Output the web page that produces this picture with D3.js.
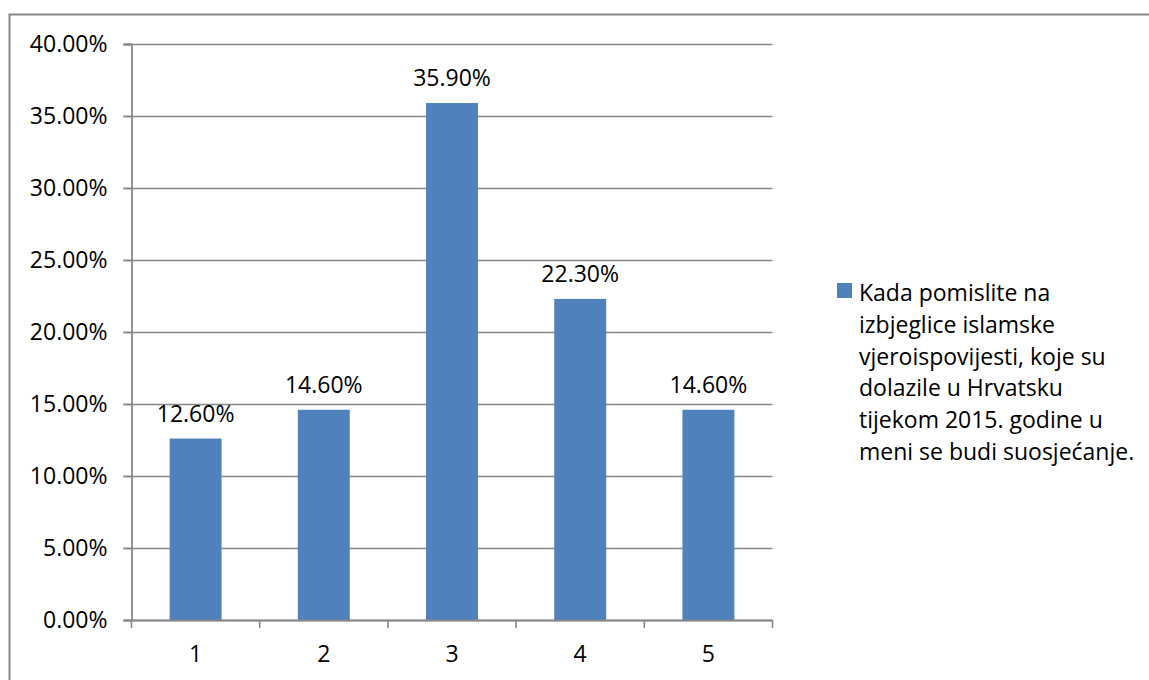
<!DOCTYPE html>
<html>
<head>
<meta charset="utf-8">
<script src="https://cdn.jsdelivr.net/npm/d3@7"></script>
<style>
  html, body { margin: 0; padding: 0; background: #fff; }
  svg { display: block; }
  text { font-family: "Open Sans", "Liberation Sans", sans-serif; fill: #000; }
</style>
</head>
<body>
<svg id="chart" width="1149" height="680"></svg>
<script>
const categories = ["1", "2", "3", "4", "5"];
const values = [12.6, 14.6, 35.9, 22.3, 14.6];
const yTicks = [0, 5, 10, 15, 20, 25, 30, 35, 40];
const seriesName = "Kada pomislite na izbjeglice islamske vjeroispovijesti, koje su dolazile u Hrvatsku tijekom 2015. godine u meni se budi suosjećanje.";
const legendLines = [
  "Kada pomislite na",
  "izbjeglice islamske",
  "vjeroispovijesti, koje su",
  "dolazile u Hrvatsku",
  "tijekom 2015. godine u",
  "meni se budi suosjećanje."
];

(function () {
const svg = d3.select("#chart");
const W = 1149, H = 680;
const plotLeft = 131.5, plotRight = 772.5, plotTop = 44, plotBottom = 620;
const gridColor = "#878787";
const barColor = "#4F81BD";
const fontSize = 23;
const fontFam = "'Open Sans', 'Liberation Sans', sans-serif";

// outer chart border (left and top visible)
svg.append("path")
  .attr("d", `M9.5,${H} L9.5,14.5 L${W},14.5`)
  .attr("fill", "none")
  .attr("stroke", gridColor)
  .attr("stroke-width", 2);

const x = d3.scaleBand()
  .domain(categories)
  .range([plotLeft, plotRight])
  .paddingInner(0.595)
  .paddingOuter(0.2975);

const y = d3.scaleLinear()
  .domain([0, 40])
  .range([plotBottom, plotTop]);

// gridlines
svg.append("g")
  .selectAll("line")
  .data(yTicks)
  .join("line")
  .attr("x1", plotLeft - 8)
  .attr("x2", plotRight)
  .attr("y1", d => Math.round(y(d)) + 0.5)
  .attr("y2", d => Math.round(y(d)) + 0.5)
  .attr("stroke", gridColor)
  .attr("stroke-width", 1.6);

// y axis
const yAxis = svg.append("g")
  .attr("transform", `translate(${plotLeft},0)`)
  .call(d3.axisLeft(y)
    .tickValues(yTicks)
    .tickFormat(d => d.toFixed(2) + "%")
    .tickSize(8)
    .tickPadding(16));
yAxis.select(".domain").attr("stroke", gridColor).attr("stroke-width", 1.8);
yAxis.selectAll(".tick line").attr("stroke", gridColor).attr("stroke-width", 1.6);
yAxis.selectAll("text")
  .attr("font-size", fontSize)
  .style("font-family", fontFam)
  .attr("fill", "#000");

// bars
svg.append("g")
  .selectAll("rect")
  .data(values)
  .join("rect")
  .attr("x", (d, i) => x(categories[i]))
  .attr("width", x.bandwidth())
  .attr("y", d => y(d))
  .attr("height", d => y(0) - y(d))
  .attr("fill", barColor);

// x axis
const xAxis = svg.append("g")
  .attr("transform", `translate(0,${plotBottom})`)
  .call(d3.axisBottom(x).tickSize(0).tickPadding(26));
xAxis.select(".domain").remove();
xAxis.selectAll("text")
  .attr("font-size", fontSize)
  .style("font-family", fontFam)
  .attr("fill", "#000");

// x axis line + boundary ticks
const boundaries = [plotLeft].concat(categories.map(c => x(c) + x.bandwidth() / 2 + x.step() / 2));
svg.append("line")
  .attr("x1", plotLeft).attr("x2", plotRight)
  .attr("y1", plotBottom + 0.5).attr("y2", plotBottom + 0.5)
  .attr("stroke", gridColor).attr("stroke-width", 1.8);
svg.append("g")
  .selectAll("line")
  .data(boundaries)
  .join("line")
  .attr("x1", d => d).attr("x2", d => d)
  .attr("y1", plotBottom).attr("y2", plotBottom + 8)
  .attr("stroke", gridColor).attr("stroke-width", 1.6);

// data labels
svg.append("g")
  .selectAll("text")
  .data(values)
  .join("text")
  .attr("x", (d, i) => x(categories[i]) + x.bandwidth() / 2)
  .attr("y", d => y(d) - 17)
  .attr("text-anchor", "middle")
  .attr("font-size", fontSize)
  .text(d => d.toFixed(2) + "%");

// legend
const legend = svg.append("g").attr("aria-label", seriesName);
legend.append("rect")
  .attr("x", 837).attr("y", 283)
  .attr("width", 15).attr("height", 15)
  .attr("fill", barColor);
legend.append("text")
  .attr("font-size", fontSize)
  .selectAll("tspan")
  .data(legendLines)
  .join("tspan")
  .attr("x", 859)
  .attr("y", (d, i) => 301 + i * 31.8)
  .text(d => d);
})();
</script>
</body>
</html>
